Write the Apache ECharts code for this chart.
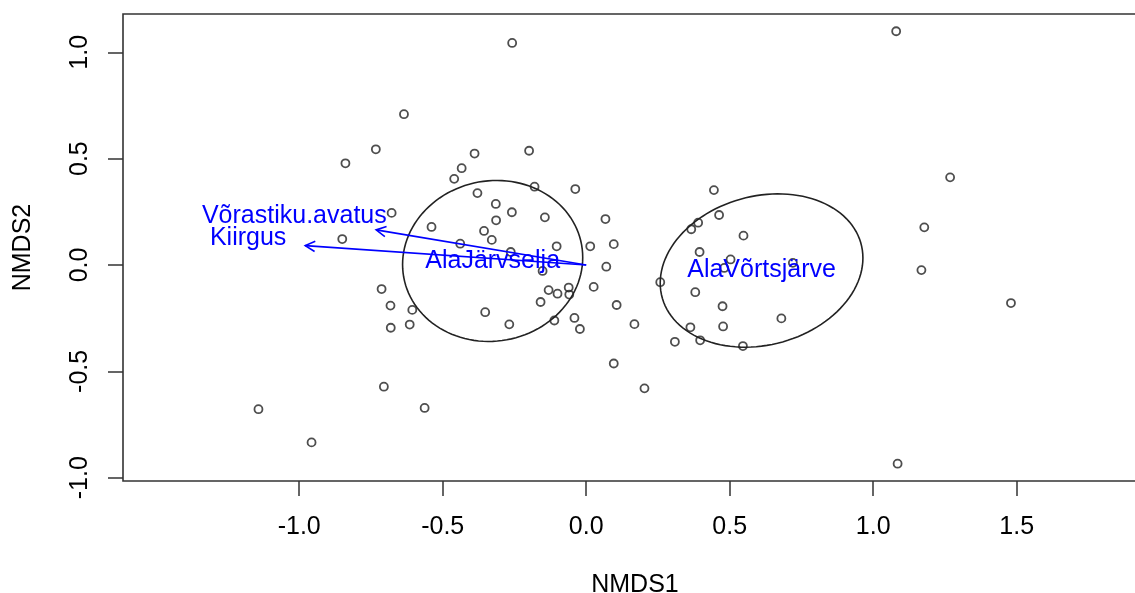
<!DOCTYPE html>
<html>
<head>
<meta charset="utf-8">
<script src="https://cdn.jsdelivr.net/npm/echarts@6/dist/echarts.min.js"></script>
<style>
  html, body { margin: 0; padding: 0; background: #fff; }
  #chart { width: 1135px; height: 593px; }
</style>
</head>
<body>
<div id="chart"></div>
<script>
// Site scores on the first two NMDS axes
const siteNMDS1 = [
  -1.142, -0.957, -0.839, -0.733, -0.635, -0.258, -0.850, -0.678, -0.713, -0.682, -0.681, -0.606, -0.615, -0.705, -0.563,
  -0.389, -0.434, -0.460, -0.199, -0.180, -0.038, -0.379, -0.315, -0.259, -0.144, 0.067, -0.314, -0.539, -0.356, -0.329,
  -0.439, -0.103, 0.014, 0.096, -0.263, 0.070, -0.152, -0.131, -0.100, -0.061, -0.059, 0.026, -0.159, -0.352, -0.268,
  -0.111, -0.041, -0.022, 0.106, 0.168, 0.096, 0.203,
  0.445, 0.463, 0.390, 0.366, 0.548, 0.395, 0.503, 0.481, 0.720, 0.258, 0.380, 0.475, 0.680, 0.477, 0.363, 0.397, 0.309, 0.546,
  1.080, 1.268, 1.178, 1.168, 1.480, 1.085
];
const siteNMDS2 = [
  -0.678, -0.834, 0.478, 0.544, 0.709, 1.044, 0.122, 0.245, -0.113, -0.191, -0.295, -0.211, -0.280, -0.572, -0.672,
  0.524, 0.455, 0.405, 0.537, 0.368, 0.357, 0.338, 0.287, 0.248, 0.224, 0.216, 0.210, 0.179, 0.160, 0.118,
  0.100, 0.088, 0.088, 0.098, 0.061, -0.008, -0.028, -0.118, -0.135, -0.106, -0.139, -0.103, -0.174, -0.222, -0.279,
  -0.261, -0.249, -0.301, -0.188, -0.278, -0.463, -0.580,
  0.352, 0.235, 0.199, 0.168, 0.138, 0.061, 0.026, -0.014, 0.010, -0.081, -0.128, -0.194, -0.251, -0.289, -0.293, -0.354, -0.361, -0.381,
  1.099, 0.412, 0.177, -0.024, -0.179, -0.934
];

// Fitted environmental vectors: arrow heads and label anchors
const vectorNames = ['Võrastiku.avatus', 'Kiirgus'];
const vectorNMDS1 = [-0.732, -0.979];
const vectorNMDS2 = [0.165, 0.091];
const vectorLabelNMDS1 = [-1.017, -1.178];
const vectorLabelNMDS2 = [0.231, 0.126];

// Group dispersion ellipses: centroid and covariance
const groupNames = ['AlaJärvselja', 'AlaVõrtsjärve'];
const groupCenterNMDS1 = [-0.326, 0.611];
const groupCenterNMDS2 = [0.019, -0.026];
const groupVarNMDS1 = [0.0985, 0.1247];
const groupVarNMDS2 = [0.1432, 0.1299];
const groupCovar = [0.0052, 0.0208];

// Axis ticks
const xTicks = [-1.0, -0.5, 0.0, 0.5, 1.0, 1.5];
const yTicks = [-1.0, -0.5, 0.0, 0.5, 1.0];

const FONT = '"Liberation Sans", Arial, Helvetica, sans-serif';
const BLUE = '#0000ff';
const INK = '#222';

const sites = siteNMDS1.map((x, i) => [x, siteNMDS2[i]]);
const vectors = vectorNMDS1.map((x, i) => [x, vectorNMDS2[i], vectorLabelNMDS1[i], vectorLabelNMDS2[i]]);
const groups = groupCenterNMDS1.map((x, i) =>
  [x, groupCenterNMDS2[i], groupVarNMDS1[i], groupVarNMDS2[i], groupCovar[i]]);

const chart = echarts.init(document.getElementById('chart'), null, { renderer: 'canvas' });

const tickStyle = { color: '#333', width: 1.5 };

chart.setOption({
  animation: false,
  backgroundColor: '#fff',
  grid: {
    left: 123, top: 14, width: 1024, height: 467,
    outerBoundsMode: 'none', containLabel: false,
    show: true, borderColor: '#333', borderWidth: 1.6, backgroundColor: 'transparent'
  },
  xAxis: {
    type: 'value', min: -1.614, max: 1.954,
    axisLine: { show: false, onZero: false },
    splitLine: { show: false },
    axisTick: { show: true, customValues: xTicks, length: 15, lineStyle: tickStyle },
    axisLabel: {
      customValues: xTicks, formatter: v => v.toFixed(1),
      fontSize: 25, color: '#000', fontFamily: FONT, margin: 34
    },
    name: 'NMDS1', nameLocation: 'middle', nameGap: 92,
    nameTextStyle: { fontSize: 25, color: '#000', fontFamily: FONT }
  },
  yAxis: {
    type: 'value', min: -1.0155, max: 1.180,
    axisLine: { show: false, onZero: false },
    splitLine: { show: false },
    axisTick: { show: true, customValues: yTicks, length: 15, lineStyle: tickStyle },
    axisLabel: {
      customValues: yTicks, formatter: v => v.toFixed(1), rotate: 90,
      fontSize: 25, color: '#000', fontFamily: FONT, margin: 30
    },
    name: 'NMDS2', nameLocation: 'middle', nameGap: 87,
    nameTextStyle: { fontSize: 25, color: '#000', fontFamily: FONT }
  },
  series: [
    {
      // sites as open circles
      type: 'scatter', data: sites, z: 2,
      symbol: 'circle', symbolSize: 8,
      itemStyle: { color: 'rgba(0,0,0,0)', borderColor: INK, borderWidth: 1.8 },
      emphasis: { disabled: true }, silent: true
    },
    {
      // dispersion ellipses from centroid + covariance (Cholesky factor)
      type: 'custom', data: groups, z: 3, silent: true,
      renderItem: function (params, api) {
        const cx = api.value(0), cy = api.value(1);
        const a = api.value(2), b = api.value(3), c = api.value(4);
        const l11 = Math.sqrt(a), l21 = c / l11, l22 = Math.sqrt(b - l21 * l21);
        const pts = [];
        const n = 120;
        for (let k = 0; k <= n; k++) {
          const t = 2 * Math.PI * k / n;
          const ct = Math.cos(t), st = Math.sin(t);
          pts.push(api.coord([cx + l11 * ct, cy + l21 * ct + l22 * st]));
        }
        return {
          type: 'polyline', shape: { points: pts },
          style: { stroke: INK, fill: null, lineWidth: 1.6 }
        };
      }
    },
    {
      // environmental vectors from the origin
      type: 'custom', data: vectors, z: 4, silent: true,
      renderItem: function (params, api) {
        const p0 = api.coord([0, 0]);
        const p1 = api.coord([api.value(0), api.value(1)]);
        const ang = Math.atan2(p1[1] - p0[1], p1[0] - p0[0]);
        const len = 11, spread = 28 * Math.PI / 180;
        const h1 = [p1[0] - len * Math.cos(ang - spread), p1[1] - len * Math.sin(ang - spread)];
        const h2 = [p1[0] - len * Math.cos(ang + spread), p1[1] - len * Math.sin(ang + spread)];
        return {
          type: 'group',
          children: [
            { type: 'line', shape: { x1: p0[0], y1: p0[1], x2: p1[0], y2: p1[1] },
              style: { stroke: BLUE, lineWidth: 1.6 } },
            { type: 'polyline', shape: { points: [h1, p1, h2] },
              style: { stroke: BLUE, fill: null, lineWidth: 1.6 } }
          ]
        };
      }
    },
    {
      // vector labels
      type: 'custom', data: vectors, z: 5, silent: true,
      renderItem: function (params, api) {
        const p = api.coord([api.value(2), api.value(3)]);
        return {
          type: 'text', x: p[0], y: p[1],
          style: { text: vectorNames[params.dataIndex], fill: BLUE, font: '25px ' + FONT,
                   align: 'center', verticalAlign: 'middle' }
        };
      }
    },
    {
      // group labels at the centroids
      type: 'custom', data: groups, z: 5, silent: true,
      renderItem: function (params, api) {
        const p = api.coord([api.value(0), api.value(1)]);
        return {
          type: 'text', x: p[0], y: p[1],
          style: { text: groupNames[params.dataIndex], fill: BLUE, font: '25px ' + FONT,
                   align: 'center', verticalAlign: 'middle' }
        };
      }
    }
  ]
});
</script>
</body>
</html>
